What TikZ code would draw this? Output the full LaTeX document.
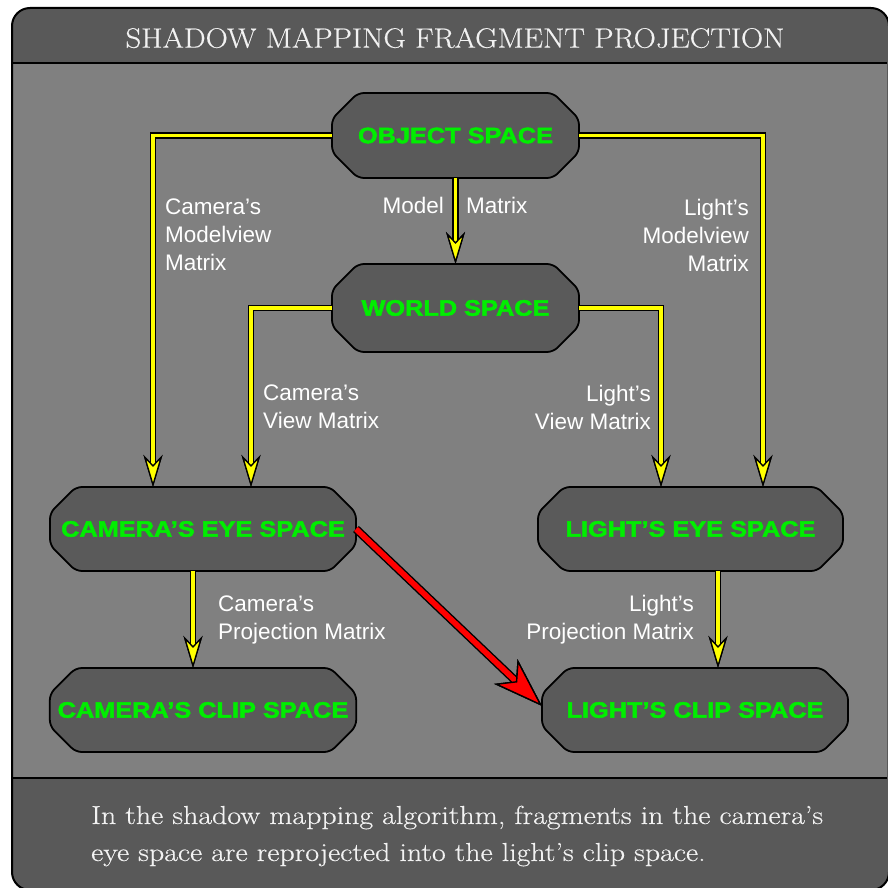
\documentclass[tikz,border=0pt]{standalone}
\usepackage{fontspec}
\usetikzlibrary{arrows.meta,shapes.misc}
\newfontfamily\labelfont{Liberation Sans}
\newfontfamily\boxfont[FakeStretch=1.14,FakeBold=2.2]{Liberation Sans Bold}
\newfontfamily\headfont[FakeStretch=1.1,FakeBold=0.4]{Latin Modern Roman}
\newfontfamily\captionfont[FakeStretch=1.15,FakeBold=0.4]{Latin Modern Roman}
\definecolor{banddark}{HTML}{595959}
\definecolor{bandmid}{HTML}{808080}
\definecolor{boxfill}{HTML}{5A5A5A}
\definecolor{boxgreen}{RGB}{0,238,0}
\definecolor{yellowc}{RGB}{255,255,0}
\definecolor{redc}{RGB}{255,0,0}
\definecolor{paletext}{HTML}{F2F2F2}
\tikzset{
  spacebox/.style={chamfered rectangle, chamfered rectangle xsep=18pt,
    chamfered rectangle ysep=18pt, draw=black, line width=1.8pt, fill=boxfill,
    rounded corners=6pt, inner sep=0pt, outer sep=0pt,
    text=boxgreen, font=\boxfont\fontsize{22.2}{24}\selectfont},
  ytip/.tip={Stealth[length=32pt, width=19pt, inset=10pt, line width=1.3pt 0 0,
    color=black, fill=yellowc]},
  yarrow/.style={draw=yellowc, line width=3.8pt, line join=miter, -ytip,
    preaction={draw=black, line width=6.6pt, line join=miter, -ytip}},
  rtip/.tip={Stealth[length=50pt, width=34pt, inset=14pt, line width=1.4pt 0 0,
    color=black, fill=redc]},
  rarrow/.style={draw=redc, line width=5.6pt, -rtip,
    preaction={draw=black, line width=8.4pt, -rtip}},
  steplabel/.style={inner sep=0pt, text=white,
    font=\labelfont\fontsize{22.5}{28}\selectfont}
}
\begin{document}
\begin{tikzpicture}[x=1pt,y=-1pt]
\useasboundingbox (0,0) rectangle (887,888);

% frame with title band, diagram area and caption band
\fill[banddark, rounded corners=18pt] (12,8) rectangle (889,890);
\fill[bandmid] (12,63) rectangle (887,778);
\draw[line width=2.4pt] (12,63) -- (887,63);
\draw[line width=2.4pt] (12,778) -- (887,778);
\draw[line width=2pt, rounded corners=18pt] (12,8) rectangle (889,890);

\node[text=paletext, font=\headfont\fontsize{28}{30}\selectfont] (title) at (455,38) {SHADOW MAPPING FRAGMENT PROJECTION};

% coordinate spaces
\node[spacebox, minimum width=247pt, minimum height=85pt] (obj) at (455.5,135.5) {OBJECT SPACE};
\node[spacebox, minimum width=247pt, minimum height=88pt] (world) at (455.5,308) {WORLD SPACE};
\node[spacebox, minimum width=306pt, minimum height=84pt] (ceye) at (203,529) {CAMERA’S EYE SPACE};
\node[spacebox, minimum width=305pt, minimum height=84pt] (leye) at (690.5,529) {LIGHT’S EYE SPACE};
\node[spacebox, minimum width=306pt, minimum height=84pt] (cclip) at (203,710) {CAMERA’S CLIP SPACE};
\node[spacebox, minimum width=306pt, minimum height=84pt] (lclip) at (695,710) {LIGHT’S CLIP SPACE};

% transformations
\draw[yarrow] (obj.west) -| ([xshift=-50pt]ceye.north);
\draw[yarrow] (obj.east) -| ([xshift=72.5pt]leye.north);
\draw[yarrow] (obj.south) -- (world.north);
\draw[yarrow] (world.west) -| ([xshift=48pt]ceye.north);
\draw[yarrow] (world.east) -| ([xshift=-29.5pt]leye.north);
\draw[yarrow] ([xshift=-10pt]ceye.south) -- ([xshift=-10pt]cclip.north);
\draw[yarrow] ([xshift=27.5pt]leye.south) -- ([xshift=27.5pt]leye.south |- lclip.north);
\draw[rarrow] (ceye.east) -- ([yshift=4pt]lclip.west);

% transformation labels
\node[steplabel, anchor=west, align=left] (lcmv) at (165,235) {Camera’s\\Modelview\\Matrix};
\node[steplabel, anchor=east, align=right] (llmv) at (749,235) {Light’s\\Modelview\\Matrix};
\node[steplabel, anchor=east] (lmodel) at (444,205) {Model};
\node[steplabel, anchor=west] (lmatrix) at (466,205) {Matrix};
\node[steplabel, anchor=west, align=left] (lcv) at (263,407) {Camera’s\\View Matrix};
\node[steplabel, anchor=east, align=right] (llv) at (651,407) {Light’s\\View Matrix};
\node[steplabel, anchor=west, align=left] (lcp) at (218,620) {Camera’s\\Projection Matrix};
\node[steplabel, anchor=east, align=right] (llp) at (694,620) {Light’s\\Projection Matrix};

% caption
\node[anchor=west, align=left, inner sep=0pt, text=paletext,
  font=\captionfont\fontsize{26}{37}\selectfont] (caption) at (91,836)
  {In the shadow mapping algorithm, fragments in the camera’s\\eye space are reprojected into the light’s clip space.};
\end{tikzpicture}
\end{document}
